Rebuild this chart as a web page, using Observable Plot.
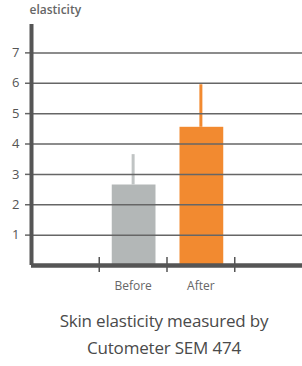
<!DOCTYPE html>
<html>
<head>
<meta charset="utf-8">
<script src="https://cdn.jsdelivr.net/npm/d3@7"></script>
<script src="https://cdn.jsdelivr.net/npm/@observablehq/plot@0.6"></script>
<style>
  html, body { margin: 0; padding: 0; background: #fff; }
  #chart { width: 302px; }
  #caption {
    width: 302px; box-sizing: border-box; padding-left: 26px;
    text-align: center; font-family: "Open Sans", sans-serif;
    font-size: 17px; line-height: 27px; color: #4a4a4a; letter-spacing: -0.2px;
    margin-top: 7px;
  }
</style>
</head>
<body>
<div id="chart"></div>
<div id="caption">Skin elasticity measured by<br>Cutometer SEM 474</div>
<script>
const categories = ["Before", "After"];
const values = [2.65, 4.55];
const errorTops = [3.65, 5.95];
const barColors = ["#b3b7b7", "#f28a30"];
const errorColors = ["#c0c4c4", "#f28a30"];
const yTicks = [1, 2, 3, 4, 5, 6, 7];
const yLabel = "elasticity";

const rows = categories.map((c, i) => ({
  cat: c, pos: i + 1, value: values[i], err: errorTops[i],
  fill: barColors[i], errColor: errorColors[i]
}));
const bandEdges = [1, 2, 3];

const plot = Plot.plot({
  width: 302,
  height: 300,
  marginLeft: 31,
  marginRight: 0,
  marginTop: 22,
  marginBottom: 35,
  style: { fontFamily: "Open Sans, sans-serif", color: "#555", background: "#fff" },
  x: { type: "linear", domain: [0, 4], axis: null, label: null },
  y: { domain: [0, 8], axis: null, label: null },
  marks: [
    Plot.rectY(rows, { x1: "pos", x2: d => d.pos + 1, y: "value", fill: "fill", insetLeft: 13, insetRight: 11 }),
    Plot.ruleX(rows, { x: d => d.pos + 0.5, y1: "value", y2: "err", stroke: "errColor", strokeWidth: 3 }),
    Plot.ruleY(yTicks, { stroke: "#666", strokeWidth: 1.5 }),
    Plot.axisY({ ticks: yTicks, tickSize: 6, tickPadding: 6, fontSize: 13, stroke: "#666", strokeWidth: 1.5, strokeOpacity: 1, fill: "#555", label: null }),
    Plot.axisX({ ticks: bandEdges, tickSize: 15, dy: -8, tickFormat: () => "", stroke: "#555", strokeWidth: 1.5, strokeOpacity: 1, label: null }),
    Plot.ruleY([0], { stroke: "#555", strokeWidth: 4.5 }),
    Plot.ruleX([0], { y1: 0, y2: 8, stroke: "#555", strokeWidth: 4, insetBottom: -2 }),
    Plot.text(rows, { x: d => d.pos + 0.5, y: 0, text: "cat", dy: 21, fontSize: 12, fill: "#666" }),
    Plot.text([yLabel], { frameAnchor: "top-left", text: d => d, dx: -2, dy: -17, fontSize: 12, fill: "#666", textAnchor: "start", fontWeight: 600 })
  ]
});
document.getElementById("chart").appendChild(plot);
</script>
</body>
</html>
